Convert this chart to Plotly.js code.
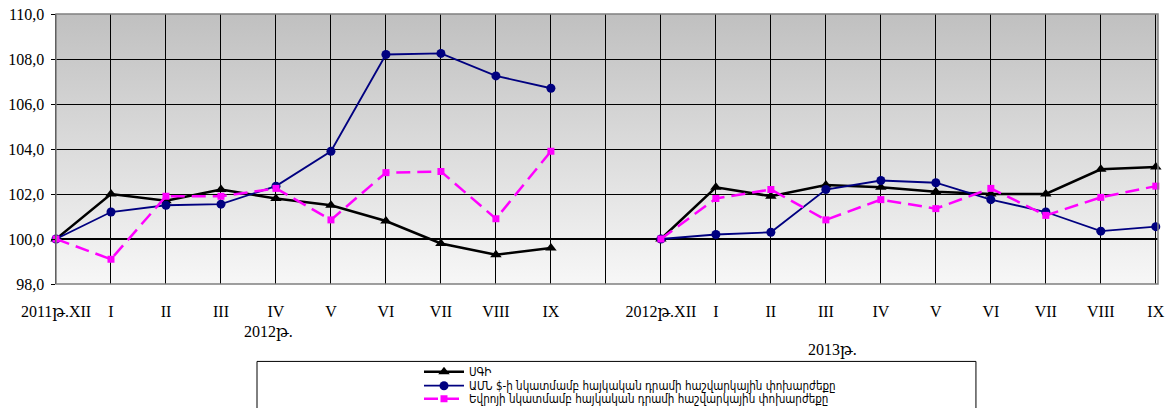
<!DOCTYPE html>
<html>
<head>
<meta charset="utf-8">
<script src="https://cdn.plot.ly/plotly-3.0.1.min.js"></script>
<style>html,body{margin:0;padding:0;background:#fff;} #chart{width:1171px;height:408px;}</style>
</head>
<body>
<div id="chart"></div>
<script>
// Category labels (index 10 is an empty separator slot)
const tickLabels = ['2011թ.XII','I','II','III','IV','V','VI','VII','VIII','IX','',
                    '2012թ.XII','I','II','III','IV','V','VI','VII','VIII','IX'];
const yTickVals = [98,100,102,104,106,108,110];
const yTickText = ['98,0','100,0','102,0','104,0','106,0','108,0','110,0'];

const seriesNames = ['ՍԳԻ',
  'ԱՄՆ $-ի նկատմամբ հայկական դրամի հաշվարկային փոխարժեքը',
  'Եվրոյի նկատմամբ հայկական դրամի հաշվարկային փոխարժեքը'];

// ՍԳԻ (CPI)
const cpi = [100.0,102.0,101.7,102.2,101.8,101.5,100.8,99.8,99.3,99.6, null,
             100.0,102.3,101.9,102.4,102.3,102.1,102.0,102.0,103.1,103.2];
// USD exchange rate index
const usd = [100.0,101.2,101.5,101.55,102.35,103.9,108.2,108.25,107.25,106.7, null,
             100.0,100.2,100.3,102.2,102.6,102.5,101.75,101.2,100.35,100.55];
// EUR exchange rate index
const eur = [100.0,99.1,101.9,101.9,102.25,100.85,102.95,103.0,100.9,103.9, null,
             100.0,101.8,102.2,100.85,101.75,101.35,102.25,101.05,101.85,102.35];

const annotationsText = ['2012թ.','2013թ.'];

const xIdx = tickLabels.map((_, i) => i);
const tickIdx = xIdx.filter(i => tickLabels[i] !== '');

const gradSvg = "<svg xmlns='http://www.w3.org/2000/svg' width='10' height='100' preserveAspectRatio='none'>" +
  "<defs><linearGradient id='g' x1='0' y1='0' x2='0' y2='1'>" +
  "<stop offset='0' stop-color='#c0c0c0'/><stop offset='1' stop-color='#f7f7f7'/></linearGradient></defs>" +
  "<rect width='10' height='100' fill='url(#g)'/></svg>";
const gradUri = 'data:image/svg+xml;base64,' + btoa(gradSvg);

const serif = '"Liberation Serif", "DejaVu Serif", serif';
const legFont = {family: '"DejaVu Sans Condensed", "DejaVu Sans", sans-serif', size: 11.5, color: '#000'};

const traces = [
  {x: xIdx, y: cpi, name: seriesNames[0], legend: 'legend', mode: 'lines+markers', cliponaxis: false,
   line: {color: '#000000', width: 2.5}, marker: {symbol: 'triangle-up', size: 10, color: '#000000'}},
  {x: xIdx, y: usd, name: seriesNames[1], legend: 'legend2', mode: 'lines+markers', cliponaxis: false,
   line: {color: '#000080', width: 1.8}, marker: {symbol: 'circle', size: 9, color: '#000080'}},
  {x: xIdx, y: eur, name: seriesNames[2], legend: 'legend3', mode: 'lines+markers', cliponaxis: false,
   line: {color: '#FF00FF', width: 2.5, dash: '14px,7px'}, marker: {symbol: 'square', size: 7, color: '#FF00FF'}}
];

function leg(y) {
  return {x: 0.3294, y: y, xanchor: 'left', yanchor: 'middle',
          bgcolor: 'rgba(0,0,0,0)', borderwidth: 0, itemwidth: 40, font: legFont};
}

const layout = {
  width: 1171, height: 408,
  margin: {l: 56, r: 13, t: 14, b: 124, pad: 0, autoexpand: false},
  paper_bgcolor: '#ffffff',
  plot_bgcolor: 'rgba(0,0,0,0)',
  showlegend: true,
  font: {family: serif, size: 16, color: '#000'},
  xaxis: {
    type: 'linear', range: [0, 20.04], tickmode: 'array',
    tickvals: tickIdx.concat([10]), ticktext: tickIdx.map(i => tickLabels[i]).concat(['']),
    showgrid: true, gridcolor: '#000000', gridwidth: 1,
    zeroline: false, showline: false, ticks: '', ticklabelstandoff: 16,
    tickfont: {family: serif, size: 16, color: '#000'}
  },
  yaxis: {
    range: [98, 110], tickmode: 'array', tickvals: yTickVals, ticktext: yTickText,
    showgrid: true, gridcolor: '#000000', gridwidth: 1,
    zeroline: false, showline: true, linecolor: '#000000', linewidth: 1.5,
    ticks: 'outside', ticklen: 4, tickcolor: '#000', tickwidth: 1, ticklabelstandoff: 3,
    tickfont: {family: serif, size: 16, color: '#000'}
  },
  images: [{source: gradUri, xref: 'paper', yref: 'paper', x: 0, y: 1, sizex: 1, sizey: 1,
            xanchor: 'left', yanchor: 'top', sizing: 'stretch', layer: 'below'}],
  shapes: [
    {type: 'rect', xref: 'paper', yref: 'paper', x0: 0, x1: 1, y0: 0, y1: 1,
     line: {color: '#808080', width: 1.5}, layer: 'above'},
    {type: 'line', xref: 'paper', yref: 'y', x0: 0, x1: 1, y0: 100, y1: 100,
     line: {color: '#000000', width: 2}, layer: 'below'},
    {type: 'rect', xref: 'paper', yref: 'paper', x0: 0.1824, x1: 0.8348, y0: -0.2867, y1: -0.52,
     line: {color: '#000000', width: 1}, fillcolor: 'rgba(0,0,0,0)'}
  ],
  legend: leg(-0.3248),
  legend2: leg(-0.3767),
  legend3: leg(-0.4248),
  annotations: [
    {text: annotationsText[0], xref: 'paper', yref: 'paper', x: 0.1924, y: -0.1767,
     xanchor: 'center', yanchor: 'middle',
     showarrow: false, font: {family: serif, size: 16, color: '#000'}},
    {text: annotationsText[1], xref: 'paper', yref: 'paper', x: 0.7042, y: -0.2433,
     xanchor: 'center', yanchor: 'middle',
     showarrow: false, font: {family: serif, size: 16, color: '#000'}}
  ]
};

Plotly.newPlot('chart', traces, layout, {displayModeBar: false, staticPlot: true});
</script>
</body>
</html>
